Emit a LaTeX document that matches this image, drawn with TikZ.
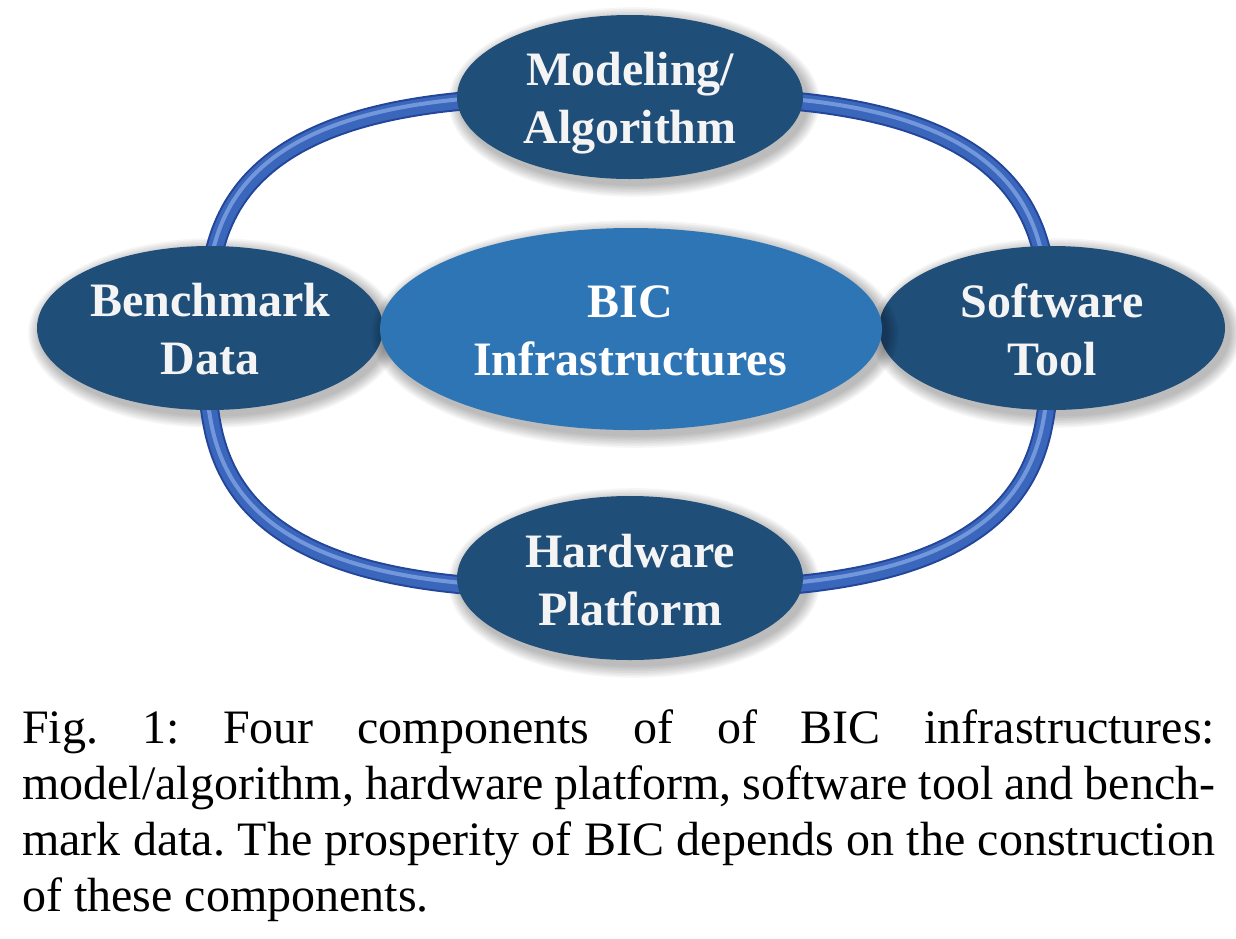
\documentclass[tikz,border=0pt]{standalone}
\usepackage{fontspec}
\setmainfont{Liberation Serif}
\frenchspacing
\usetikzlibrary{shapes.geometric}
\definecolor{satblue}{HTML}{1F4E79}
\definecolor{hubblue}{HTML}{2E75B6}
\definecolor{tubedark}{HTML}{24469A}
\definecolor{tubemain}{HTML}{3A66BC}
\definecolor{tubelight}{HTML}{86A8E6}
\definecolor{labelwhite}{HTML}{F4F4F4}
\tikzset{
  sat/.style={ellipse, fill=satblue, minimum width=346pt, minimum height=164pt, inner sep=0pt},
  hub/.style={ellipse, fill=hubblue, minimum width=502pt, minimum height=202pt, inner sep=0pt},
  lbl/.style={text=labelwhite, font=\fontsize{48}{58}\selectfont\bfseries, align=center, inner sep=0pt},
  capline/.style={font=\fontsize{48}{55}\selectfont, anchor=base west, inner sep=0pt},
  shadowring/.style={fill=black, opacity=0.035},
}
\newcommand{\softshade}[4]{%
  \foreach \k in {1,...,8}{\fill[shadowring] (#1+4,#2+5) ellipse [x radius={#3+1.6*\k}, y radius={#4+1.6*\k}];}}
\newcommand{\ringpath}{plot[domain=0.5:359.5, samples=360, smooth cycle] ({628+421*sign(cos(\x))*pow(abs(cos(\x)),2/3)}, {343+247*sign(sin(\x))*pow(abs(sin(\x)),2/3)})}
\begin{document}
\begin{tikzpicture}[x=1pt, y=-1pt]
\useasboundingbox (0,0) rectangle (1236,938);
\fill[white] (0,0) rectangle (1236,938);
% shadows of the four satellites
\softshade{630}{97}{173}{82}
\softshade{210}{328}{173}{82}
\softshade{1052}{328}{173}{82}
\softshade{630}{578}{173}{82}
% ring (tube)
\draw[tubedark, line width=19pt] \ringpath;
\draw[tubemain, line width=15pt] \ringpath;
\draw[tubelight, line width=4pt, opacity=0.75, xshift=-1pt, yshift=2pt] \ringpath;
% satellites
\node[sat] (model) at (630,97) {};
\node[sat] (bench) at (210,328) {};
\node[sat] (soft) at (1052,328) {};
\node[sat] (hard) at (630,578) {};
% hub
\softshade{631}{329}{251}{101}
\node[hub] (bic) at (631,329) {};
% labels
\node[lbl] (modelT) at (630,102.4) {\strut Modeling/\\\strut Algorithm};
\node[lbl] (benchT) at (210,333.4) {\strut Benchmark\\\strut Data};
\node[lbl] (softT) at (1052,334.4) {\strut Software\\\strut Tool};
\node[lbl] (hardT) at (630,584.4) {\strut Hardware\\\strut Platform};
\node[lbl, text=white] (bicT) at (630,334.4) {\strut BIC\\\strut Infrastructures};
% caption
\node[capline] (cap1) at (22,743) {\makebox[1193pt][s]{Fig. 1: Four components of of BIC infrastructures:}};
\node[capline] (cap2) at (22,799) {\makebox[1193pt][s]{model/algorithm, hardware platform, software tool and bench-}};
\node[capline] (cap3) at (22,855) {\makebox[1193pt][s]{mark data. The prosperity of BIC depends on the construction}};
\node[capline] (cap4) at (22,911) {of these components.};
\end{tikzpicture}
\end{document}
